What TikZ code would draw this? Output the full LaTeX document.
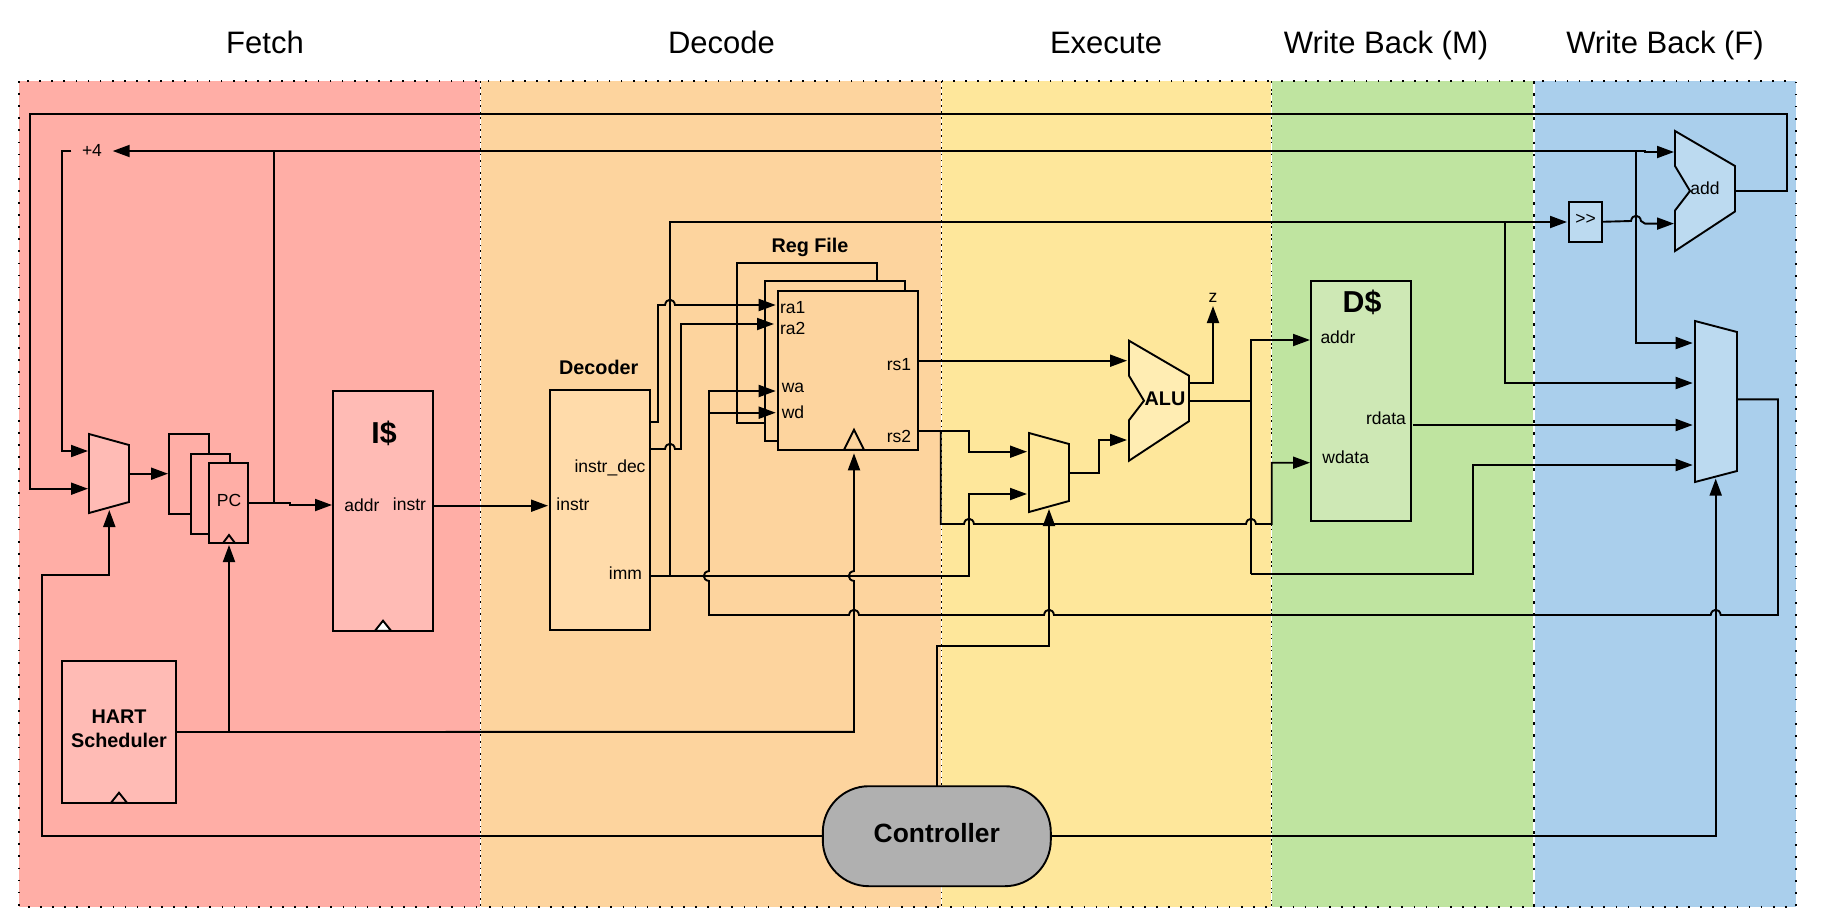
\documentclass[tikz,border=0pt]{standalone}
\usepackage{fontspec}
\setmainfont{Liberation Sans}
\usetikzlibrary{arrows.meta}
\definecolor{fetchbg}{HTML}{FFAEA6}
\definecolor{fetchbox}{HTML}{FFBBB5}
\definecolor{decodebg}{HTML}{FDD49E}
\definecolor{decodebox}{HTML}{FFDBAA}
\definecolor{executebg}{HTML}{FEE79B}
\definecolor{executebox}{HTML}{FFEDB3}
\definecolor{memorybg}{HTML}{BFE4A0}
\definecolor{memorybox}{HTML}{CEE8B5}
\definecolor{finalbg}{HTML}{AACFEC}
\definecolor{finalbox}{HTML}{BCDAF0}
\newcommand{\HopR}[2]{-- (#1-5,#2) .. controls (#1-4,#2-7) and (#1+4,#2-7) .. (#1+5,#2)}
\newcommand{\HopL}[2]{-- (#1+5,#2) .. controls (#1+4,#2-7) and (#1-4,#2-7) .. (#1-5,#2)}
\newcommand{\HopU}[2]{-- (#1,#2+5) .. controls (#1-7,#2+4) and (#1-7,#2-4) .. (#1,#2-5)}
\newcommand{\Mux}[5]{\draw[unit, fill=#1] (#2,#3) -- (#2+#4,#3+11) -- (#2+#4,#3+#5-11) -- (#2,#3+#5) -- cycle;}
\newcommand{\Alu}[3]{\draw[unit, fill=#1] (#2,#3) -- (#2+60,#3+35) -- (#2+60,#3+80.5) -- (#2,#3+120) -- (#2,#3+79.5) -- (#2+15,#3+60) -- (#2,#3+35) -- cycle;}
\newcommand{\Clk}[5]{\draw[unit, fill=#1] (#2-#4,#3) -- (#2,#3-#5) -- (#2+#4,#3) -- cycle;}
\tikzset{
    band/.style={rectangle, fill=#1, inner sep=0pt, outer sep=0pt, anchor=north west, minimum height=826pt},
    bandedge/.style={line width=1.7pt, dash pattern=on 1.7pt off 10.4pt},
    unit/.style={draw, line width=1.9pt},
    box/.style={rectangle, draw, line width=1.9pt, fill=#1, inner sep=0pt, outer sep=0pt, anchor=north west},
    wire/.style={line width=1.9pt},
    stage/.style={font=\fontsize{31}{36}\selectfont, inner sep=0pt, text height=22pt, text depth=6pt},
    port/.style={font=\fontsize{17.5}{20}\selectfont, inner sep=0pt},
    head/.style={font=\fontsize{19.8}{24}\selectfont\bfseries, inner sep=0pt, align=center},
    big/.style={font=\fontsize{30.3}{34}\selectfont\bfseries, inner sep=0pt}
}
\begin{document}
\begin{tikzpicture}[>={Triangle[length=17pt,width=12pt]}, x=1pt, y=-1pt]

    \useasboundingbox (0,0) rectangle (1824,924);

    \draw(19,81) node[band=fetchbg, minimum width=461.5pt] (fetchband) {};
    \draw(480.5,81) node[band=decodebg, minimum width=461pt] (decodeband) {};
    \draw(941.5,81) node[band=executebg, minimum width=330pt] (executeband) {};
    \draw(1271.5,81) node[band=memorybg, minimum width=262.5pt] (memoryband) {};
    \draw(1534,81) node[band=finalbg, minimum width=262pt] (finalband) {};
    \draw[white, line width=1.2pt] (decodeband.north west) -- (decodeband.south west);
    \draw[white, line width=1.2pt] (executeband.north west) -- (executeband.south west);
    \draw[white, line width=1.2pt] (memoryband.north west) -- (memoryband.south west);
    \draw[white, line width=1.2pt] (finalband.north west) -- (finalband.south west);
    \draw[bandedge] (fetchband.north west) rectangle (fetchband.south east);
    \draw[bandedge] (decodeband.north west) rectangle (decodeband.south east);
    \draw[bandedge] (executeband.north west) rectangle (executeband.south east);
    \draw[bandedge] (memoryband.north west) rectangle (memoryband.south east);
    \draw[bandedge] (finalband.north west) rectangle (finalband.south east);

    \draw(265,45.5) node[stage] (fetchlabel) {Fetch};
    \draw(721.5,45.5) node[stage] (decodelabel) {Decode};
    \draw(1106,45.5) node[stage] (executelabel) {Execute};
    \draw(1386,45.5) node[stage] (memorylabel) {Write Back (M)};
    \draw(1665,45.5) node[stage] (finallabel) {Write Back (F)};

    \draw(169,434) node[box=fetchbg, minimum width=40pt, minimum height=80pt] (pcback) {};
    \draw(191,454) node[box=fetchbg, minimum width=39pt, minimum height=80pt] (pcmid) {};
    \draw(209,463) node[box=fetchbg, minimum width=39pt, minimum height=80pt] (pc) {};
    \draw(229,500) node[port] (pclabel) {PC};
    \Clk{fetchbg}{229}{543}{6}{8}
    \draw(333,391) node[box=fetchbox, minimum width=100pt, minimum height=240pt] (icache) {};
    \draw(384,433) node[big] (icachelabel) {I\$};
    \draw(362,505) node[port] (icacheaddr) {addr};
    \draw(409.5,504) node[port] (icacheinstr) {instr};
    \Clk{white}{383}{630.7}{8}{10}
    \draw(62,661) node[box=fetchbox, minimum width=114pt, minimum height=142pt] (hart) {};
    \draw(119,729) node[head] (hartlabel) {HART\\Scheduler};
    \Clk{fetchbox}{119}{802.7}{8}{10}
    \draw(92,151) node[port, minimum width=41pt, text height=12.5pt, text depth=2.5pt] (plusfour) {+4};
    \Mux{fetchbox}{89}{434}{40}{79}

    \draw(550,390) node[box=decodebox, minimum width=100pt, minimum height=240pt] (decoder) {};
    \draw(598.7,367) node[head] (decoderlabel) {Decoder};
    \draw(610,467.7) node[port] (decinstrdec) {instr\_dec};
    \draw(573,504) node[port] (decinstr) {instr};
    \draw(625.5,573) node[port] (decimm) {imm};
    \draw(737,262.7) node[box=decodebg, minimum width=140pt, minimum height=160pt] (rfback) {};
    \draw(765,281) node[box=decodebg, minimum width=140pt, minimum height=160pt] (rfmid) {};
    \draw(777.7,290.7) node[box=decodebg, minimum width=140.3pt, minimum height=159pt] (regfile) {};
    \draw(810,247.5) node[head] (regfilelabel) {Reg File};
    \draw(792.7,308) node[port] (rfraone) {ra1};
    \draw(792.7,328) node[port] (rfratwo) {ra2};
    \draw(793,388) node[port] (rfwa) {wa};
    \draw(793,412.7) node[port] (rfwd) {wd};
    \draw(899,365) node[port] (rfrsone) {rs1};
    \draw(899,436) node[port] (rfrstwo) {rs2};
    \Clk{decodebg}{854}{449.7}{10}{20}

    \Mux{executebg}{1029}{433}{40}{79}
    \Alu{executebox}{1129}{340.7}
    \draw(1165,399) node[head] (alulabel) {ALU};
    \draw(1213,297.7) node[port] (zero) {z};

    \draw(1311,280.7) node[box=memorybox, minimum width=100pt, minimum height=240.3pt] (dcache) {};
    \draw(1362,302) node[big] (dcachelabel) {D\$};
    \draw(1338,337) node[port] (dcaddr) {addr};
    \draw(1386,418.7) node[port] (dcrdata) {rdata};
    \draw(1345.7,457) node[port] (dcwdata) {wdata};

    \Alu{finalbox}{1675}{131}
    \draw(1705,188) node[port] (addlabel) {add};
    \draw(1568.7,201.8) node[box=finalbox, minimum width=33.3pt, minimum height=40pt] (shifter) {};
    \draw(1585.5,219) node[port] (shifterlabel) {>{}>};
    \Mux{finalbox}{1695}{321}{42}{161}

    \draw(936.8,836.2) node[rectangle, draw, line width=1.9pt, fill=black!31, rounded corners=46pt, minimum width=228pt, minimum height=100pt, inner sep=0pt, outer sep=0pt, font=\fontsize{26.4}{30}\selectfont\bfseries, text height=19pt, text depth=7pt] (controller) {Controller};

    \coordinate (pcmuxa) at (88,451);
    \coordinate (pcmuxb) at (88,488.7);
    \coordinate (pcmuxs) at (109.3,510);
    \coordinate (pcmuxo) at (129,473.7);
    \coordinate (pcin) at (168,473.7);
    \coordinate (pcclk) at (229,545);
    \coordinate (addrin) at (332,505);
    \coordinate (instrout) at (433,505.7);
    \coordinate (instrin) at (548,505.7);
    \coordinate (decouta) at (650,422);
    \coordinate (decoutb) at (650,449);
    \coordinate (immout) at (650,576);
    \coordinate (raonein) at (775.7,305);
    \coordinate (ratwoin) at (774,324);
    \coordinate (wain) at (775.7,391);
    \coordinate (wdin) at (775.7,412.7);
    \coordinate (rfclk) at (854,453.3);
    \coordinate (rsoneout) at (918,360.7);
    \coordinate (rstwoout) at (918,430.7);
    \coordinate (exmuxa) at (1027,451.7);
    \coordinate (exmuxb) at (1027,494);
    \coordinate (exmuxs) at (1049,509);
    \coordinate (exmuxo) at (1069,472.7);
    \coordinate (aluina) at (1127,360.7);
    \coordinate (aluinb) at (1127,440);
    \coordinate (aluouta) at (1189,382.7);
    \coordinate (aluoutb) at (1189,401);
    \coordinate (zeroin) at (1213,306);
    \coordinate (dcaddrin) at (1310,340);
    \coordinate (dcdatain) at (1310,462.7);
    \coordinate (rdataout) at (1413,425);
    \coordinate (shiftin) at (1567,222);
    \coordinate (addina) at (1674,152);
    \coordinate (addinb) at (1674,223.6);
    \coordinate (addout) at (1735,190.7);
    \coordinate (wbmuxa) at (1692.7,343);
    \coordinate (wbmuxb) at (1692.7,383);
    \coordinate (wbmuxc) at (1692.7,425);
    \coordinate (wbmuxd) at (1692.7,465);
    \coordinate (wbmuxs) at (1715.7,478.6);
    \coordinate (wbmuxo) at (1737,399.3);

    \draw[wire, ->] (addout) -- (1787,190.7) -- (1787,114) -- (30,114) -- (30,488.7) -- (pcmuxb);
    \draw[wire, ->] (plusfour.west) -- (62,151) -- (62,451) -- (pcmuxa);
    \draw[wire, ->] (pcmuxo) -- (pcin);
    \draw[wire, ->] (pc.east) -- (290,503) -- (290,505) -- (addrin);
    \draw[wire, ->] (274,503) -- (274,151) -- (plusfour.east);
    \draw[wire, ->] (274,151) -- (1645,151) -- (1645,152) -- (addina);
    \draw[wire, ->] (1636,151) -- (1636,343) -- (wbmuxa);
    \draw[wire, ->] (instrout) -- (instrin);
    \draw[wire, ->] (decouta) -- (658,422) -- (658,305) \HopR{670}{305} -- (raonein);
    \draw[wire, ->] (decoutb) \HopR{670}{449} -- (681,449) -- (681,324) -- (ratwoin);
    \draw[wire, ->] (immout) -- (670,576) -- (670,222) -- (shiftin);
    \draw[wire, ->] (670,576) -- (969,576) -- (969,494) -- (exmuxb);
    \draw[wire, ->] (shifter.east) -- (1631,221) \HopR{1636}{221} -- (1645,223.6) -- (addinb);
    \draw[wire, ->] (1505,222) -- (1505,383) -- (wbmuxb);
    \draw[wire, ->] (rdataout) -- (wbmuxc);
    \draw[wire, ->] (wbmuxo) -- (1778,399.3) -- (1778,615) \HopL{1715.7}{615} \HopL{1049}{615} \HopL{854}{615} -- (709,615) \HopU{709}{576} -- (709,391) -- (wain);
    \draw[wire, ->] (709,412.7) -- (wdin);
    \draw[wire, ->] (rsoneout) -- (aluina);
    \draw[wire, ->] (rstwoout) -- (969,430.7) -- (969,451.7) -- (exmuxa);
    \draw[wire, ->] (940.7,430.7) -- (940.7,524) \HopR{969}{524} \HopR{1251}{524} -- (1271.7,524) -- (1271.7,462.7) -- (dcdatain);
    \draw[wire, ->] (exmuxo) -- (1098.7,472.7) -- (1098.7,440) -- (aluinb);
    \draw[wire, ->] (aluouta) -- (1213,382.7) -- (zeroin);
    \draw[wire] (aluoutb) -- (1251,401);
    \draw[wire, ->] (1251,574) -- (1251,340) -- (dcaddrin);
    \draw[wire, ->] (1251,574) -- (1473,574) -- (1473,465) -- (wbmuxd);
    \draw[wire, ->] (hart.east) -- (854,731.85) \HopU{854}{576} -- (rfclk);
    \draw[wire, ->] (229,731.85) -- (pcclk);
    \draw[wire, ->] (controller.west) -- (42,836.2) -- (42,574.7) -- (109.3,574.7) -- (pcmuxs);
    \draw[wire, ->] (controller.north) -- (936.8,645.7) -- (1049,645.7) -- (exmuxs);
    \draw[wire, ->] (controller.east) -- (1715.7,836.2) -- (wbmuxs);

\end{tikzpicture}
\end{document}
